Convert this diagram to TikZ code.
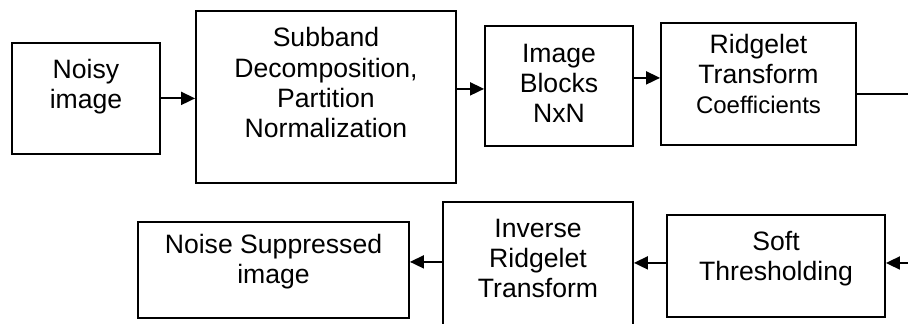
\documentclass[tikz,border=0pt]{standalone}
\usepackage{fontspec}
\setmainfont{Liberation Sans}
\usetikzlibrary{positioning, arrows.meta}

\begin{document}
\begin{tikzpicture}[x=0.5pt, y=-0.5pt,
    blk/.style={draw, line width=0.9pt, align=center, anchor=north, inner sep=0pt, font=\fontsize{13.3}{15.2}\selectfont},
    arr/.style={-{Triangle[length=7pt, width=6.5pt]}, line width=0.9pt}]
        \useasboundingbox (0, 0) rectangle (908, 324);

        \node[blk, minimum width=74pt, text height=33pt, text depth=22.5pt] (noisy) at (86, 42) {Noisy\\image};
        \node[blk, minimum width=130pt, text height=63.5pt, text depth=22.5pt] (subband) at (326, 10) {Subband\\Decomposition,\\Partition\\Normalization};
        \node[blk, minimum width=74pt, text height=48.5pt, text depth=11.5pt] (blocks) at (559, 25) {Image\\Blocks\\NxN};
        \node[blk, minimum width=97.5pt, text height=45.5pt, text depth=15.5pt] (ridgelet) at (758.5, 22) {Ridgelet\\Transform\\{\fontsize{12}{13.5}\selectfont Coefficients}};

        \node[blk, minimum width=109pt, text height=33pt, text depth=18pt] (soft) at (776, 214) {Soft\\Thresholding};
        \node[blk, minimum width=95pt, text height=48pt, text depth=21.5pt] (inverse) at (538, 201) {Inverse\\Ridgelet\\Transform};
        \node[blk, minimum width=135.5pt, text height=31pt, text depth=17pt] (result) at (273.5, 221) {Noise Suppressed\\image};

        \coordinate (outA) at (908, 94);
        \coordinate (inA) at (908, 263);

        \draw[arr] (noisy.east) -- (noisy.east -| subband.west);
        \draw[arr] ([yshift=4pt]subband.east) -- ([yshift=4pt]subband.east -| blocks.west);
        \draw[arr] ([yshift=4pt]blocks.east) -- ([yshift=4pt]blocks.east -| ridgelet.west);
        \draw[line width=0.9pt] (ridgelet.east |- outA) -- (outA);

        \draw[arr] (inA) -- (inA -| soft.east);
        \draw[arr] ([yshift=1.5pt]soft.west) -- ([yshift=1.5pt]soft.west -| inverse.east);
        \draw[arr] ([yshift=4pt]result.east -| inverse.west) -- ([yshift=4pt]result.east);
    \end{tikzpicture}
\end{document}
